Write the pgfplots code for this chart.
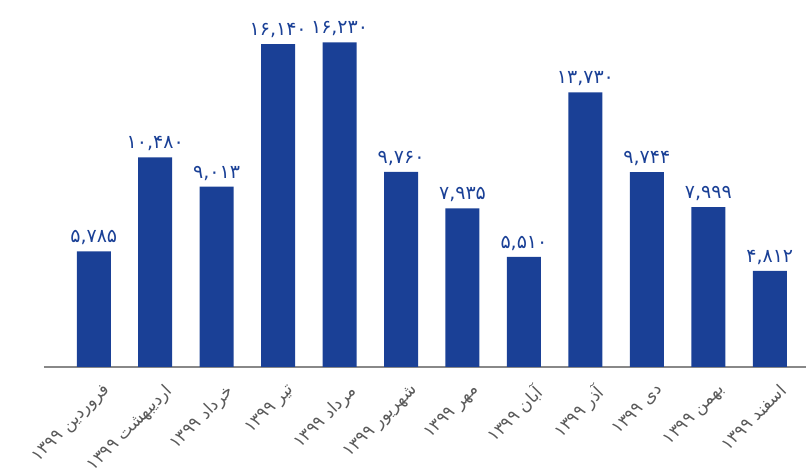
\documentclass[border=0pt]{standalone}
\usepackage{fontspec}
\usepackage{pgfplots}
\usepackage{pgfplotstable}
\pgfplotsset{compat=1.18}
\usetikzlibrary{calc}
\TeXXeTstate=1
\newfontfamily\arabicfont[Script=Arabic]{DejaVu Sans}
\definecolor{barblue}{HTML}{1A4096}
\definecolor{lblgray}{HTML}{595959}
\definecolor{axgray}{HTML}{888888}
\newcommand{\lbl}[1]{\beginR #1 \beginL ۱۳۹۹\endL\endR}
\pgfplotstableread{
x y lbl
0 5785 ۵,۷۸۵
1 10480 ۱۰,۴۸۰
2 9013 ۹,۰۱۳
3 16140 ۱۶,۱۴۰
4 16230 ۱۶,۲۳۰
5 9760 ۹,۷۶۰
6 7935 ۷,۹۳۵
7 5510 ۵,۵۱۰
8 13730 ۱۳,۷۳۰
9 9744 ۹,۷۴۴
10 7999 ۷,۹۹۹
11 4812 ۴,۸۱۲
}\data
\begin{document}
\begin{tikzpicture}
\begin{axis}[
  name=ax,
  at={(0,0)}, anchor=south west,
  scale only axis,
  width=762pt, height=367pt,
  xmin=-0.81, xmax=11.59,
  ymin=0, ymax=18350,
  axis y line=none,
  axis x line*=bottom,
  axis line style={axgray, line width=1.5pt},
  x axis line style={-},
  xtick=data,
  major tick length=0pt,
  xticklabels={
    {\lbl{فروردین}},
    {\lbl{اردیبهشت}},
    {\lbl{خرداد}},
    {\lbl{تیر}},
    {\lbl{مرداد}},
    {\lbl{شهریور}},
    {\lbl{مهر}},
    {\lbl{آبان}},
    {\lbl{آذر}},
    {\lbl{دی}},
    {\lbl{بهمن}},
    {\lbl{اسفند}}},
  x tick label style={font=\arabicfont\fontsize{17}{17}\selectfont, text=lblgray, rotate=45, anchor=north east, inner sep=0pt, xshift=-5pt, yshift=-17pt},
  ytick=\empty,
  clip=false,
  nodes near coords,
  point meta=explicit symbolic,
  nodes near coords style={font=\arabicfont\fontsize{19}{19}\selectfont, text=barblue, anchor=south, inner sep=6pt},
]
\addplot[ybar, bar width=34pt, fill=barblue, draw=none] table[x=x, y=y, meta=lbl] {\data};
\end{axis}
\pgfresetboundingbox
\path[use as bounding box] ($(ax.south west)+(-44pt,-101pt)$) rectangle ($(ax.north east)$);
\end{tikzpicture}
\end{document}
